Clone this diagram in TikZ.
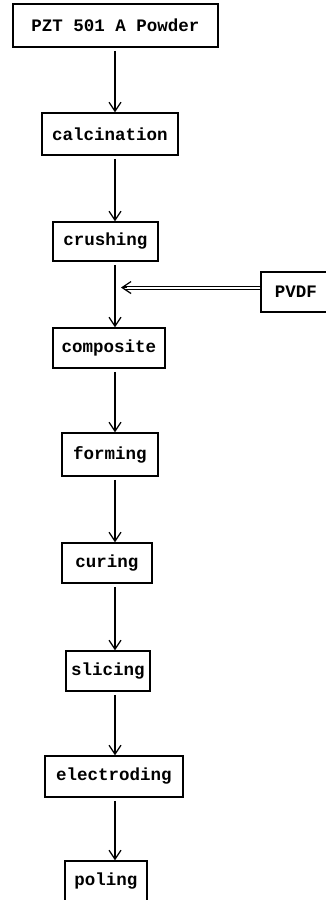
\documentclass[tikz,border=0pt]{standalone}
\usepackage{fontspec}
\setmonofont{Liberation Mono}
\usetikzlibrary{arrows.meta,calc}
\tikzset{
  stepbox/.style={draw, line width=1.5pt, inner sep=0pt, font=\ttfamily\bfseries\fontsize{17.5}{20}\selectfont, anchor=center},
  arr/.style={line width=1.2pt, -{Straight Barb[length=9pt,width=12pt,line width=1.2pt]}, shorten <=3pt},
}
\begin{document}
\begin{tikzpicture}[x=1pt,y=-1pt]
\useasboundingbox (0,0) rectangle (326,900);
\coordinate (axis) at (115,0);
\node[stepbox, minimum width=205pt, minimum height=43pt] (pzt) at (115.5,25.5) {PZT 501 A Powder};
\node[stepbox, minimum width=136pt, minimum height=42pt] (calc) at (110,134) {calcination};
\node[stepbox, minimum width=105pt, minimum height=39pt] (crush) at (105.5,241.5) {crushing};
\node[stepbox, minimum width=112pt, minimum height=40pt] (comp) at (109,348) {composite};
\node[stepbox, minimum width=96pt, minimum height=43pt] (form) at (110,454.5) {forming};
\node[stepbox, minimum width=90pt, minimum height=40pt] (cure) at (107,563) {curing};
\node[stepbox, minimum width=84pt, minimum height=40pt] (slice) at (108,671) {slicing};
\node[stepbox, minimum width=138pt, minimum height=41pt] (elec) at (114,776.5) {electroding};
\node[stepbox, minimum width=82pt, minimum height=41pt] (pole) at (106,881.5) {poling};
\node[stepbox, minimum width=70pt, minimum height=40pt] (pvdf) at (296,292) {PVDF};
\coordinate (pvhead) at (121,287.5);
\draw[arr] (pzt.south -| axis) -- (calc.north -| axis);
\draw[arr] (calc.south -| axis) -- (crush.north -| axis);
\draw[arr] (crush.south -| axis) -- (comp.north -| axis);
\draw[arr] (comp.south -| axis) -- (form.north -| axis);
\draw[arr] (form.south -| axis) -- (cure.north -| axis);
\draw[arr] (cure.south -| axis) -- (slice.north -| axis);
\draw[arr] (slice.south -| axis) -- (elec.north -| axis);
\draw[arr] (elec.south -| axis) -- (pole.north -| axis);
\draw[double, double distance=2pt, line width=1pt] (pvdf.west |- pvhead) -- ($(pvhead)+(3,0)$);
\draw[line width=1.2pt, -{Straight Barb[length=9pt,width=12pt,line width=1.2pt]}] ($(pvhead)+(6,0)$) -- (pvhead);
\end{tikzpicture}
\end{document}
